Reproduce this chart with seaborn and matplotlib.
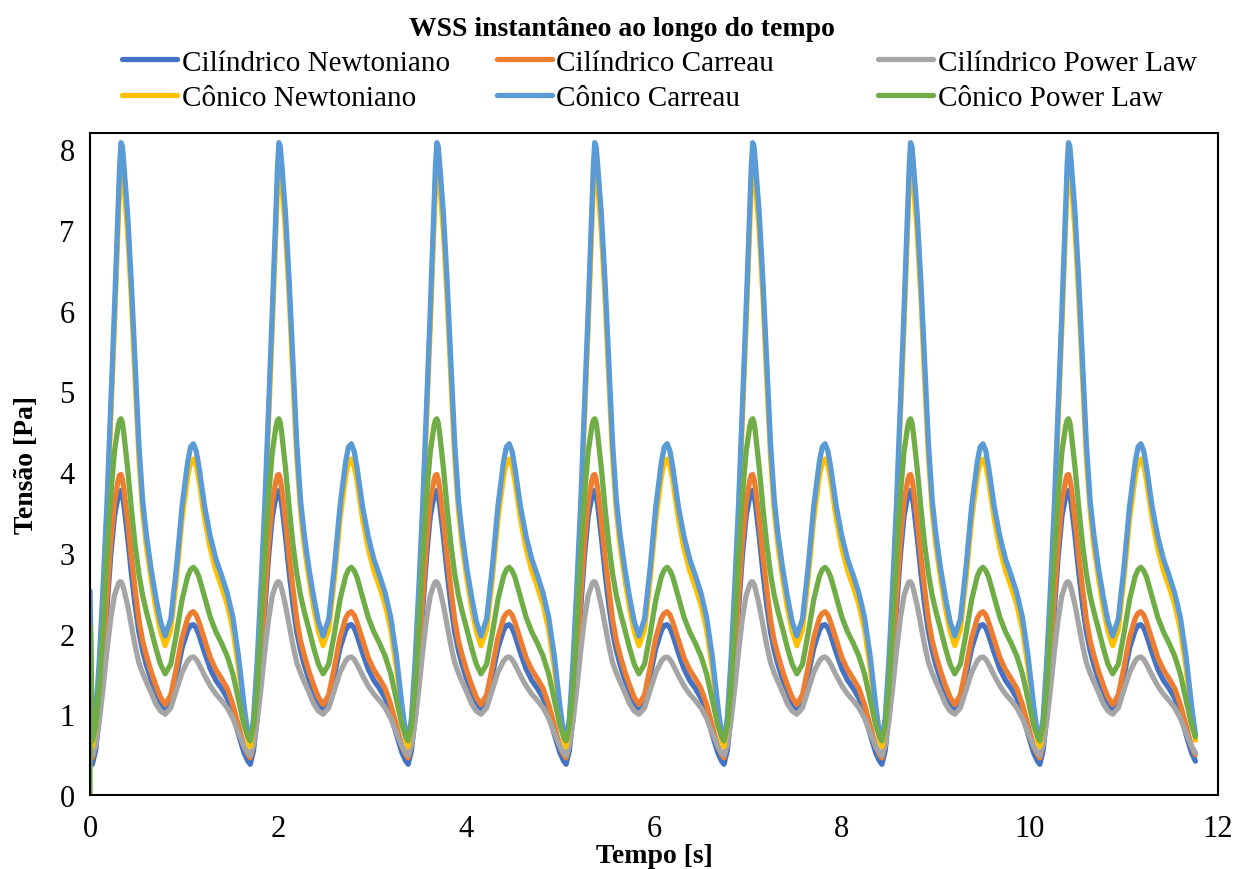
import matplotlib
matplotlib.use('Agg')
import matplotlib.pyplot as plt
from matplotlib.lines import Line2D
import seaborn as sns
import pandas as pd


# one cardiac cycle, repeated for every period
PERIOD = 1.68
N_CYCLES = 7

phase = [0.00, 0.025, 0.06, 0.10, 0.14, 0.18, 0.22, 0.26, 0.30, 0.315, 0.33, 0.345,
         0.36, 0.40, 0.44, 0.48, 0.52, 0.56, 0.60, 0.65, 0.70, 0.75, 0.80, 0.86,
         0.92, 0.98, 1.04, 1.07, 1.10, 1.13, 1.16, 1.22, 1.28, 1.34, 1.40, 1.46, 1.52, 1.58, 1.64]

cil_newtoniano = [0.42, 0.38, 0.55, 0.98, 1.60, 2.30, 2.95, 3.45, 3.70, 3.76, 3.77, 3.71,
                  3.60, 3.20, 2.75, 2.35, 2.02, 1.79, 1.61, 1.43, 1.27, 1.13, 1.05, 1.16,
                  1.48, 1.82, 2.04, 2.10, 2.11, 2.07, 1.98, 1.76, 1.56, 1.42, 1.32, 1.20, 1.00, 0.75, 0.52]
cil_carreau = [0.50, 0.46, 0.64, 1.08, 1.72, 2.45, 3.12, 3.63, 3.90, 3.96, 3.97, 3.91,
               3.80, 3.40, 2.95, 2.55, 2.17, 1.91, 1.73, 1.53, 1.36, 1.21, 1.12, 1.24,
               1.58, 1.95, 2.19, 2.25, 2.27, 2.23, 2.14, 1.92, 1.70, 1.55, 1.44, 1.32, 1.12, 0.86, 0.60]
cil_power = [0.52, 0.49, 0.62, 0.92, 1.33, 1.78, 2.18, 2.47, 2.61, 2.64, 2.64, 2.61,
             2.55, 2.35, 2.10, 1.85, 1.64, 1.51, 1.40, 1.27, 1.13, 1.04, 1.00, 1.08,
             1.30, 1.52, 1.66, 1.70, 1.71, 1.68, 1.62, 1.48, 1.35, 1.25, 1.17, 1.08, 0.95, 0.77, 0.60]
con_newtoniano = [0.68, 0.60, 0.86, 1.55, 2.45, 3.45, 4.62, 5.80, 7.10, 7.55, 7.86, 7.80,
                  7.58, 6.98, 6.15, 5.15, 4.18, 3.52, 3.08, 2.68, 2.32, 2.03, 1.85, 2.05,
                  2.68, 3.42, 3.95, 4.12, 4.16, 4.08, 3.90, 3.42, 3.05, 2.78, 2.58, 2.36, 2.05, 1.58, 1.02]
con_carreau = [0.75, 0.68, 0.95, 1.68, 2.60, 3.60, 4.80, 6.00, 7.30, 7.78, 8.08, 8.03,
               7.82, 7.20, 6.35, 5.35, 4.35, 3.65, 3.22, 2.80, 2.45, 2.15, 1.97, 2.18,
               2.82, 3.58, 4.13, 4.31, 4.35, 4.26, 4.06, 3.57, 3.20, 2.92, 2.72, 2.50, 2.20, 1.72, 1.10]
con_power = [0.72, 0.67, 0.85, 1.35, 2.10, 2.95, 3.70, 4.25, 4.57, 4.64, 4.66, 4.61,
             4.48, 4.05, 3.55, 3.10, 2.74, 2.47, 2.27, 2.05, 1.82, 1.62, 1.50, 1.62,
             2.00, 2.42, 2.71, 2.79, 2.82, 2.78, 2.70, 2.45, 2.20, 2.02, 1.88, 1.72, 1.50, 1.18, 0.86]

# first samples of the simulation (start-up transient)
start_t = [0.0, 0.004]
start_values = {
  'Cilíndrico Newtoniano': [0.45, 0.45],
  'Cilíndrico Carreau': [0.55, 0.55],
  'Cilíndrico Power Law': [0.60, 0.60],
  'Cônico Newtoniano': [0.80, 0.80],
  'Cônico Carreau': [2.53, 2.30],
  'Cônico Power Law': [0.00, 2.08],
}

series = {
  'Cilíndrico Newtoniano': cil_newtoniano,
  'Cilíndrico Carreau': cil_carreau,
  'Cilíndrico Power Law': cil_power,
  'Cônico Newtoniano': con_newtoniano,
  'Cônico Carreau': con_carreau,
  'Cônico Power Law': con_power,
}
colors = {
  'Cilíndrico Newtoniano': '#4472C4',
  'Cilíndrico Carreau': '#ED7D31',
  'Cilíndrico Power Law': '#A5A5A5',
  'Cônico Newtoniano': '#FFC000',
  'Cônico Carreau': '#5B9BD5',
  'Cônico Power Law': '#70AD47',
}


def build(name):
  cycle = series[name]
  assert len(cycle) == len(phase)
  t = list(start_t)
  v = list(start_values[name])
  for k in range(N_CYCLES):
    for tau, y in zip(phase, cycle):
      if k == 0 and tau == 0:
        continue
      t.append(tau + k * PERIOD)
      v.append(y)
  t.append(N_CYCLES * PERIOD)
  v.append(cycle[0])
  return pd.DataFrame({'Tempo': t, 'Tensao': v})


sns.set_theme(style='white')
plt.rcParams['font.family'] = ['Liberation Serif', 'DejaVu Serif']
plt.rcParams['text.color'] = 'black'
plt.rcParams['axes.labelcolor'] = 'black'

LW = 3.8
fig = plt.figure(figsize=(12.36, 8.7), dpi=100)
ax = fig.add_axes([0.0728, 0.0851, 0.9126, 0.7609])

for name in series:
  sns.lineplot(data=build(name), x='Tempo', y='Tensao', ax=ax, color=colors[name],
               lw=LW, estimator=None, sort=False, legend=False)

ax.set_xlim(0, 12)
ax.set_ylim(0, 8.2)
ax.set_xticks(range(0, 13, 2))
ax.set_yticks(range(0, 9))
ax.tick_params(axis='both', direction='in', length=6, width=1.3, labelsize=22, colors='black')
ax.tick_params(axis='x', pad=14)
ax.tick_params(axis='y', pad=11)
for spine in ax.spines.values():
  spine.set_color('black')
  spine.set_linewidth(1.5)

ax.set_xlabel('Tempo [s]', fontsize=20, fontweight='bold')
ax.set_ylabel('Tensão [Pa]', fontsize=20, fontweight='bold')
ax.xaxis.set_label_coords(0.5, -0.072)
ax.yaxis.set_label_coords(-0.045, 0.5)

fig.text(0.503, 1 - 30 / 870, 'WSS instantâneo ao longo do tempo', ha='center', va='center',
         fontsize=20, fontweight='bold')

# Excel-like legend: 3 evenly spaced columns, filled row by row
names = list(series)
columns = [(names[0], names[3]), (names[1], names[4]), (names[2], names[5])]
col_x = [122 / 1236, 497 / 1236, 878 / 1236]
for x, col in zip(col_x, columns):
  handles = [Line2D([0], [0], color=colors[n], lw=LW) for n in col]
  fig.legend(handles, list(col), loc='center left', bbox_to_anchor=(x, 1 - 81 / 870),
             frameon=False, fontsize=21, borderpad=0, borderaxespad=0,
             handlelength=1.9, handletextpad=0.14, labelspacing=0.3)

fig.savefig('out.png', dpi=100)
